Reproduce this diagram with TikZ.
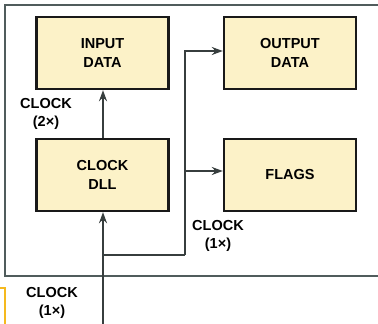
\documentclass[tikz,border=0pt]{standalone}
\usepackage{fontspec}
\setmainfont{Liberation Sans}
\usetikzlibrary{arrows.meta,calc}
\definecolor{boxfill}{RGB}{252,242,200}
\definecolor{framecol}{RGB}{80,92,92}
\definecolor{conncol}{RGB}{55,62,62}
\definecolor{orangecol}{RGB}{245,185,30}
\tikzset{
  blk/.style={draw=black!90, line width=2.4pt, fill=boxfill, minimum width=132pt, minimum height=72pt, inner sep=0pt, align=center, font=\fontsize{14.5}{19.5}\selectfont\bfseries},
  lbl/.style={align=center, inner sep=0pt, font=\fontsize{14.5}{18}\selectfont\bfseries},
  conn/.style={draw=conncol, line width=1.5pt},
  arr/.style={conn, -{Stealth[length=11pt,width=8pt]}},
  frm/.style={draw=framecol, line width=2pt},
}
\begin{document}
\begin{tikzpicture}[x=1pt,y=-1pt]
\useasboundingbox (0,0) rectangle (378,324);
\fill[white] (0,0) rectangle (378,324);
\draw[frm] (378,5) -- (5,5) -- (5,276) -- (378,276);
\draw[draw=orangecol, line width=1.5pt] (0,288) -- (5,288) -- (5,324);
\node[blk] (inp) at (102.5,53) {INPUT\\DATA};
\node[blk] (dll) at (102.5,175) {CLOCK\\DLL};
\node[blk] (out) at (290,53) {OUTPUT\\DATA};
\node[blk] (fl) at (290,175) {FLAGS};
\coordinate (clkin) at (103,324);
\coordinate (br) at (103,255);
\coordinate (c1) at (185,255);
\draw[arr] (clkin) -- (dll.south -| clkin);
\draw[arr] (dll.north -| clkin) -- (inp.south -| clkin);
\draw[conn] (br) -- (c1);
\draw[arr] (c1) |- ([yshift=2pt]out.west);
\draw[arr] (c1) |- ([yshift=4pt]fl.west);
\node[lbl] (l2) at (46,114) {CLOCK\\(2×)};
\node[lbl] (l1a) at (218,236) {CLOCK\\(1×)};
\node[lbl] (l1b) at (52,303) {CLOCK\\(1×)};
\end{tikzpicture}
\end{document}
